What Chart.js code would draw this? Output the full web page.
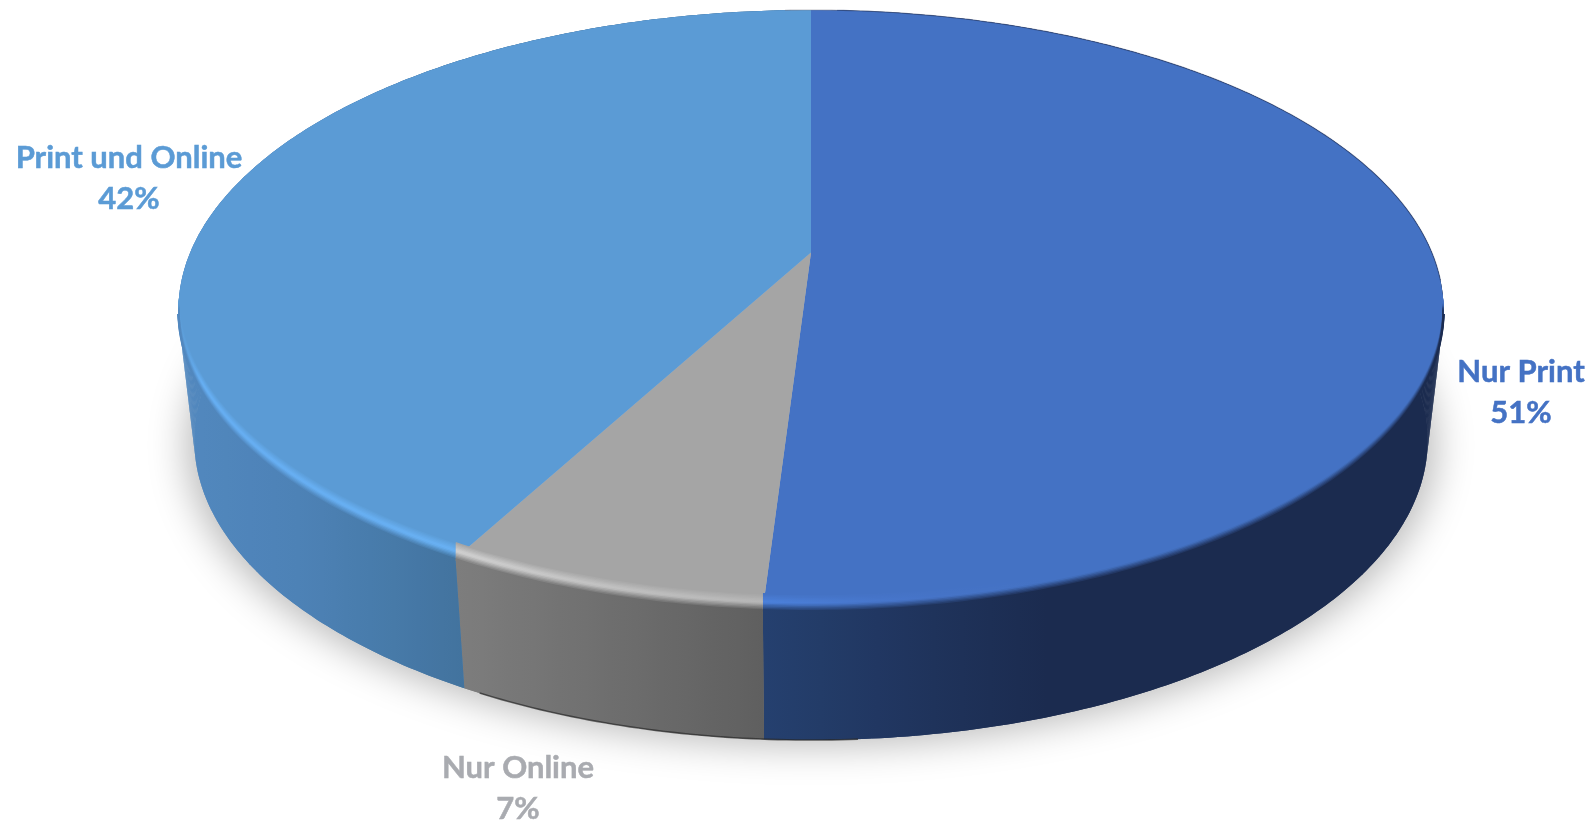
<!DOCTYPE html>
<html>
<head>
<meta charset="utf-8">
<title>Nur Print / Nur Online / Print und Online</title>
<script src="https://cdn.jsdelivr.net/npm/chart.js@4/dist/chart.umd.min.js"></script>
<style>
  html, body { margin: 0; padding: 0; background: #fff; overflow: hidden; }
  canvas { display: block; }
</style>
</head>
<body>
<canvas id="pie" width="1596" height="822"></canvas>
<script>
const categories = ['Nur Print', 'Nur Online', 'Print und Online'];
const shares = [51, 6.9, 42.1];
const faceColors = ['#4472c4', '#a5a5a5', '#5b9bd5'];
const labelColors = ['#4472c4', '#a9abb0', '#5b9bd5'];

// shading of the side wall and of the rim highlight, [x, colour]
const wallStops = [
  [[764, '#25406f'], [1040, '#1b2b4f'], [1443, '#1b2b4f']],
  [[457, '#7d7d7d'], [764, '#5f5f5f']],
  [[178, '#5288bf'], [300, '#4d82b6'], [466, '#42739e']]
];
const rimStops = [
  [[764, '#4b80da'], [900, '#4674c8'], [1050, '#4472c4'], [1443, '#4472c4']],
  [[457, '#cfcfcf'], [620, '#c0c0c0'], [764, '#b6b6b6']],
  [[178, '#5b9bd5'], [200, '#66aef2'], [466, '#68b0f2']]
];
const labelSpots = [[1521, 372], [518, 768], [129, 158]];

// the disc is seen in perspective, so its centre sits above the middle of the ellipse
const view = { cx: 811, apexY: 252.5, b: 240.6, c: 620.8, p: -0.1917, depth: 130, shrink: 0.975, bevel: 16 };

function project(theta, r = 1) {
  const u = Math.sin(theta) * r;
  const v = -Math.cos(theta) * r;
  const w = 1 + view.p * v;
  return [view.cx + view.c * u / w, (view.apexY + view.b * v) / w];
}

function projectBase(theta) {
  const [x, y] = project(theta);
  return [view.cx + (x - view.cx) * view.shrink, y + view.depth];
}

function anglesBetween(from, to) {
  const out = [];
  const steps = Math.max(2, Math.ceil((to - from) / 0.012));
  for (let i = 0; i <= steps; i++) {
    out.push(from + (to - from) * i / steps);
  }
  return out;
}

function hexToRgb(hex) {
  return [1, 3, 5].map(i => parseInt(hex.slice(i, i + 2), 16));
}

function sampleStops(stops, x) {
  if (x <= stops[0][0]) return hexToRgb(stops[0][1]);
  for (let i = 1; i < stops.length; i++) {
    if (x <= stops[i][0]) {
      const k = (x - stops[i - 1][0]) / (stops[i][0] - stops[i - 1][0]);
      const a = hexToRgb(stops[i - 1][1]);
      const b = hexToRgb(stops[i][1]);
      return a.map((c, n) => c + (b[n] - c) * k);
    }
  }
  return hexToRgb(stops[stops.length - 1][1]);
}

function mix(a, b, k) {
  return a.map((c, n) => c + (b[n] - c) * k);
}

function horizontalGradient(ctx, x0, x1, colorAt) {
  const g = ctx.createLinearGradient(x0, 0, x1, 0);
  for (let i = 0; i <= 12; i++) {
    const c = colorAt(x0 + (x1 - x0) * i / 12).map(Math.round);
    g.addColorStop(i / 12, `rgb(${c[0]},${c[1]},${c[2]})`);
  }
  return g;
}

function tracePoints(ctx, points) {
  points.forEach(([x, y], i) => (i ? ctx.lineTo(x, y) : ctx.moveTo(x, y)));
}

function drawShadow(ctx) {
  const away = 3000;
  ctx.save();
  ctx.shadowColor = 'rgba(0,0,0,0.28)';
  ctx.shadowBlur = 38;
  ctx.shadowOffsetX = away;
  ctx.shadowOffsetY = 5;
  ctx.fillStyle = '#000';
  ctx.beginPath();
  tracePoints(ctx, anglesBetween(0, Math.PI * 2).map(t => {
    const [x, y] = projectBase(t);
    return [view.cx + (x - view.cx) * 1.012 - away, y];
  }));
  ctx.closePath();
  ctx.fill();
  ctx.restore();
}

function drawWall(ctx, from, to, index) {
  const angles = anglesBetween(from, to);
  const stops = wallStops[index];
  ctx.fillStyle = horizontalGradient(ctx, stops[0][0], stops[stops.length - 1][0], x => sampleStops(stops, x));
  ctx.beginPath();
  tracePoints(ctx, angles.map(t => project(t)).concat(angles.slice().reverse().map(projectBase)));
  ctx.closePath();
  ctx.fill();
  // the quads fill the slivers between both rims at the left and right ends
  for (let i = 1; i < angles.length; i++) {
    ctx.beginPath();
    tracePoints(ctx, [project(angles[i - 1]), project(angles[i]), projectBase(angles[i]), projectBase(angles[i - 1])]);
    ctx.closePath();
    ctx.fill();
  }
}

function drawFace(ctx, from, to, index) {
  ctx.fillStyle = faceColors[index];
  ctx.beginPath();
  tracePoints(ctx, [project(from, 0)].concat(anglesBetween(from, to).map(t => project(t))));
  ctx.closePath();
  ctx.fill();
}

function drawBevel(ctx, from, to, index) {
  const start = Math.max(from, Math.PI * 0.56);
  const end = Math.min(to, Math.PI * 1.44);
  if (end <= start) return;
  const face = hexToRgb(faceColors[index]);
  const rim = rimStops[index];
  const wall = wallStops[index];
  const angles = anglesBetween(start, end);
  const levels = 13;
  ctx.save();
  // keep the lifted rim lines inside the disc where it is widest
  ctx.beginPath();
  tracePoints(ctx, anglesBetween(0, Math.PI * 2).map(t => project(t)));
  ctx.closePath();
  ctx.rect(0, 314, 1596, 508);
  ctx.clip();
  ctx.lineWidth = 2.2;
  ctx.lineCap = 'butt';
  ctx.lineJoin = 'round';
  for (let i = 0; i < levels; i++) {
    const t = i / (levels - 1);
    const lift = view.bevel * (1 - t) - 1;
    ctx.strokeStyle = horizontalGradient(ctx, rim[0][0], rim[rim.length - 1][0], x => {
      const hi = sampleStops(rim, x);
      if (t < 0.45) return mix(face, hi, t / 0.45);
      if (t < 0.55) return hi;
      return mix(hi, sampleStops(wall, x), (t - 0.55) / 0.45);
    });
    ctx.beginPath();
    tracePoints(ctx, angles.map(a => {
      const [x, y] = project(a);
      return [x, y - lift];
    }));
    ctx.stroke();
  }
  ctx.restore();
}

function drawEdges(ctx) {
  ctx.save();
  // dark line under the front of the wall
  ctx.lineWidth = 1.6;
  ctx.strokeStyle = 'rgba(40,40,40,0.7)';
  ctx.beginPath();
  tracePoints(ctx, anglesBetween(Math.PI * 0.98, Math.PI * 1.15).map(projectBase));
  ctx.stroke();
  // thin outline on the back of the rim
  ctx.lineWidth = 1.2;
  ctx.strokeStyle = 'rgba(40,55,95,0.5)';
  ctx.beginPath();
  tracePoints(ctx, anglesBetween(0.05, Math.PI * 0.53).map(t => project(t)));
  ctx.stroke();
  ctx.strokeStyle = 'rgba(120,120,130,0.45)';
  ctx.beginPath();
  tracePoints(ctx, anglesBetween(-0.05, 0.05).map(t => project(t)));
  ctx.stroke();
  ctx.restore();
}

const pie3d = {
  id: 'pie3d',
  beforeDatasetsDraw(chart) {
    const ctx = chart.ctx;
    const arcs = chart.getDatasetMeta(0).data;
    const spans = arcs.map(arc => {
      const { startAngle, endAngle } = arc.getProps(['startAngle', 'endAngle'], true);
      return [startAngle + Math.PI / 2, endAngle + Math.PI / 2];
    });
    drawShadow(ctx);
    spans.forEach(([from, to], i) => drawWall(ctx, from, to, i));
    spans.forEach(([from, to], i) => drawFace(ctx, from, to, i));
    spans.forEach(([from, to], i) => drawBevel(ctx, from, to, i));
    drawEdges(ctx);
    return false;
  },
  afterDraw(chart) {
    const ctx = chart.ctx;
    const lineGap = 41;
    ctx.save();
    ctx.font = 'bold 31px Lato';
    ctx.textAlign = 'center';
    ctx.textBaseline = 'middle';
    ctx.lineWidth = 0.5;
    categories.forEach((name, i) => {
      const [x, y] = labelSpots[i];
      const percent = Math.round(shares[i]) + '%';
      ctx.fillStyle = ctx.strokeStyle = labelColors[i];
      ctx.fillText(name, x, y);
      ctx.strokeText(name, x, y);
      ctx.fillText(percent, x, y + lineGap);
      ctx.strokeText(percent, x, y + lineGap);
    });
    ctx.restore();
  }
};

new Chart(document.getElementById('pie'), {
  type: 'pie',
  data: {
    labels: categories,
    datasets: [{ data: shares, backgroundColor: faceColors, borderWidth: 0 }]
  },
  options: {
    responsive: false,
    animation: false,
    plugins: {
      legend: { display: false },
      tooltip: { enabled: false }
    }
  },
  plugins: [pie3d]
});
</script>
</body>
</html>
